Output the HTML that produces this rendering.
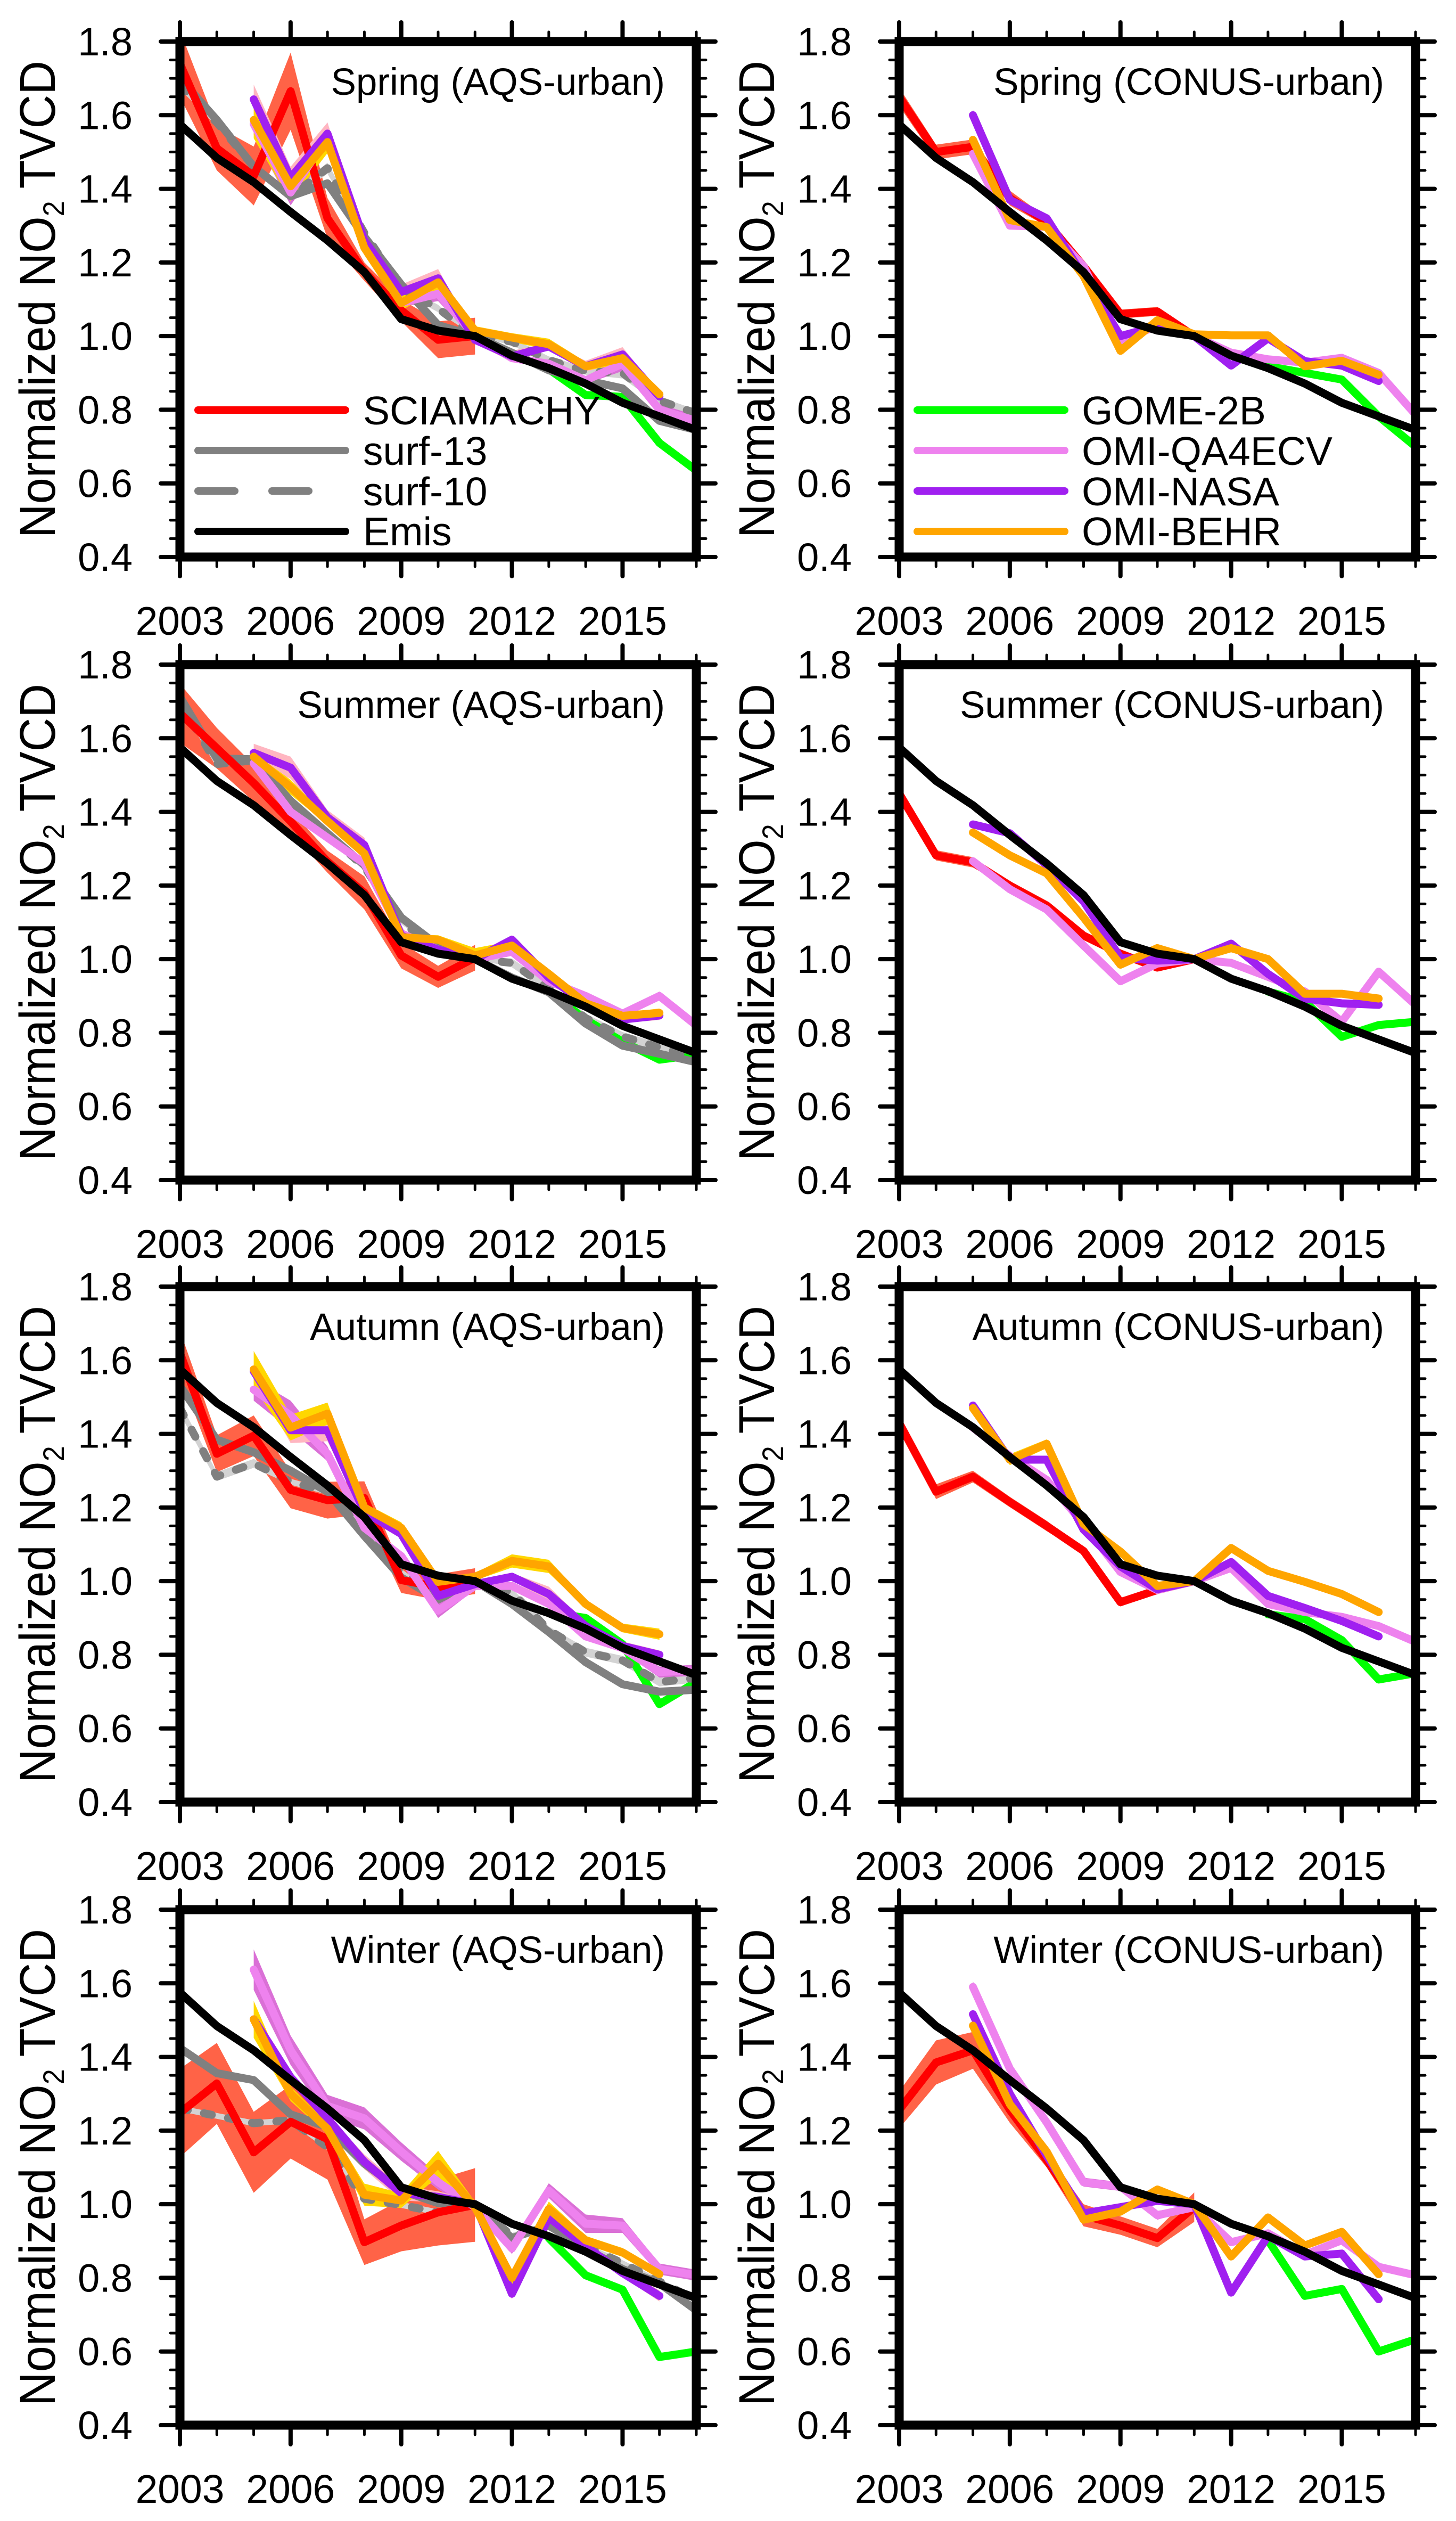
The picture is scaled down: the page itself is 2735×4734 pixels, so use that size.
<!DOCTYPE html>
<html lang="en">
<head>
<meta charset="utf-8">
<title>Normalized NO2 TVCD trends by season</title>
<style>
html,body{margin:0;padding:0;background:#fff}
svg{display:block}
text{font-family:"Liberation Sans",Arial,sans-serif;fill:#000}
</style>
</head>
<body>
<svg id="figure" xmlns="http://www.w3.org/2000/svg" width="2735" height="4734" viewBox="0 0 2735 4734"></svg>
<script>
const N = null;
const years = [2003,2004,2005,2006,2007,2008,2009,2010,2011,2012,2013,2014,2015,2016,2017];
const yearTickLabels = [2003,2006,2009,2012,2015];
const valueTickLabels = ['0.4','0.6','0.8','1.0','1.2','1.4','1.6','1.8'];
const emis = [1.575,1.484,1.418,1.337,1.26,1.174,1.046,1.015,1.0,.947,.913,.871,.819,.782,.745];

/* Spring, AQS-urban */
const spAqsRed = [1.74,1.51,1.435,1.665,1.32,1.175,1.07,.99,1.0];
const spAqsRedErr = [.09,.06,.08,.105,.055,.025,.03,.05,.05];
const spAqsS13 = [1.70,1.587,1.46,1.38,1.415,1.27,1.14,1.03,1.0,.955,.907,.88,.858,.77,.745];
const spAqsS13Err = [.01,.01,.01,.01,.01,.01,.01,.01,0,.005,.005,.005,.005,.005,.005];
const spAqsS10 = [1.68,1.58,1.46,1.38,1.456,1.28,1.13,1.075,1.0,.985,.935,.905,.90,.825,.79];
const spAqsS10Err = [.01,.01,.01,.01,.015,.01,.01,.01,0,.01,.01,.01,.015,.01,.01];
const spAqsGreen = [N,N,N,N,N,N,N,N,N,N,.91,.84,.835,.71,.635];
const spAqsGreenErr = [N,N,N,N,N,N,N,N,N,N,.005,.008,.008,.005,.005];
const spAqsViolet = [N,N,1.576,1.39,1.54,1.26,1.09,1.115,1.0,.94,.925,.88,.925,.80,.77];
const spAqsVioletErr = [N,N,.03,.035,.04,.01,.01,.02,.01,.01,.01,.01,.02,.015,.015];
const spAqsPurple = [N,N,1.643,1.43,1.55,1.26,1.12,1.157,.99,.945,.972,.918,.95,.836];
const spAqsPurpleErr = [N,N,.04,.03,.03,.01,.02,.025,.01,.015,.01,.015,.02,.01];
const spAqsOrange = [N,N,1.587,1.407,1.527,1.24,1.09,1.146,1.015,.996,.978,.918,.94,.842];
const spAqsOrangeErr = [N,N,.05,.04,.03,.02,.02,.02,.012,.012,.015,.012,.015,.012];

/* Spring, CONUS-urban */
const spConRed = [1.65,1.50,1.514,1.375,1.31,1.19,1.06,1.067,1.0];
const spConRedErr = [.025,.02,.02,.02,.012,.012,.012,.012,.003];
const spConGreen = [N,N,N,N,N,N,N,N,N,N,.918,.90,.882,.782,.70];
const spConGreenErr = [N,N,N,N,N,N,N,N,N,N,.002,.002,.002,.002,.002];
const spConViolet = [N,N,1.495,1.30,1.297,1.19,.983,1.03,1.0,.955,.937,.928,.941,.90,.787];
const spConVioletErr = [N,N,.005,.005,.008,.005,.005,.005,.002,.004,.004,.004,.004,.004,.004];
const spConPurple = [N,N,1.6,1.37,1.32,1.163,1.0,1.027,1.0,.92,.994,.932,.92,.878];
const spConPurpleErr = [N,N,.015,.006,.006,.004,.004,.004,.002,.004,.004,.004,.004,.004];
const spConOrange = [N,N,1.533,1.315,1.296,1.163,.96,1.043,1.005,1.002,1.002,.918,.933,.895];
const spConOrangeErr = [N,N,.006,.004,.004,.004,.004,.004,.002,.002,.004,.004,.004,.004];

/* Summer, AQS-urban */
const suAqsRed = [1.668,1.573,1.478,1.374,1.265,1.18,1.01,.952,1.004];
const suAqsRedErr = [.08,.055,.05,.03,.03,.045,.035,.03,.035];
const suAqsS13 = [1.712,1.545,1.543,1.43,1.342,1.255,1.113,1.037,1.0,.95,.91,.825,.765,.743,.72];
const suAqsS13Err = [.01,.01,.005,.005,.005,.005,.005,.005,0,.005,.005,.005,.005,.005,.005];
const suAqsS10 = [1.70,1.53,1.54,1.42,1.34,1.25,1.10,1.03,1.0,.99,.92,.84,.79,.76,.735];
const suAqsS10Err = [.01,.01,.005,.005,.005,.005,.005,.005,0,.012,.012,.012,.012,.012,.01];
const suAqsGreen = [N,N,N,N,N,N,N,N,N,N,.912,.836,.776,.727,.74];
const suAqsGreenErr = [N,N,N,N,N,N,N,N,N,N,.003,.003,.003,.003,.003];
const suAqsViolet = [N,N,1.532,1.40,1.33,1.26,1.07,1.026,1.0,1.02,.94,.90,.852,.90,.82];
const suAqsVioletErr = [N,N,.01,.012,.01,.01,.008,.008,.004,.008,.01,.01,.01,.012,.01];
const suAqsPurple = [N,N,1.56,1.52,1.385,1.31,1.064,1.026,1.0,1.053,.95,.88,.836,.847];
const suAqsPurpleErr = [N,N,.025,.03,.02,.02,.01,.01,.004,.012,.01,.01,.01,.012];
const suAqsOrange = [N,N,1.55,1.467,1.375,1.287,1.06,1.053,1.01,1.037,.96,.88,.846,.854];
const suAqsOrangeErr = [N,N,.01,.02,.01,.01,.008,.012,.02,.012,.01,.008,.008,.012];

/* Summer, CONUS-urban */
const suConRed = [1.45,1.282,1.263,1.2,1.146,1.064,1.015,.977,1.0];
const suConRedErr = [.02,.014,.014,.006,.008,.008,.006,.006,.002];
const suConGreen = [N,N,N,N,N,N,N,N,N,N,.912,.885,.789,.821,.83];
const suConGreenErr = [N,N,N,N,N,N,N,N,N,N,.002,.002,.002,.002,.002];
const suConViolet = [N,N,1.266,1.19,1.135,1.037,.94,.988,1.0,.99,.952,.912,.83,.966,.876];
const suConVioletErr = [N,N,.003,.003,.003,.003,.003,.003,.002,.003,.003,.003,.003,.003,.003];
const suConPurple = [N,N,1.366,1.342,1.255,1.157,1.004,.996,1.0,1.042,.96,.893,.88,.876];
const suConPurpleErr = [N,N,.003,.006,.003,.003,.003,.003,.002,.006,.003,.003,.003,.003];
const suConOrange = [N,N,1.344,1.282,1.233,1.113,.985,1.03,1.0,1.03,1.0,.906,.906,.893];
const suConOrangeErr = [N,N,.002,.002,.002,.002,.002,.002,.002,.002,.002,.002,.002,.002];

/* Autumn, AQS-urban */
const auAqsRed = [1.62,1.346,1.395,1.248,1.22,1.226,1.003,.984,1.0];
const auAqsRedErr = [.06,.05,.055,.05,.05,.045,.035,.035,.035];
const auAqsS13 = [1.53,1.384,1.35,1.30,1.243,1.123,1.01,.95,1.0,.938,.862,.78,.72,.70,.705];
const auAqsS13Err = [.008,.006,.006,.006,.006,.006,.006,.006,0,.005,.005,.005,.005,.005,.005];
const auAqsS10 = [1.47,1.284,1.32,1.27,1.243,1.14,1.025,.955,1.0,.97,.867,.807,.785,.726,.737];
const auAqsS10Err = [.015,.012,.012,.008,.008,.008,.008,.008,0,.01,.01,.012,.012,.012,.012];
const auAqsGreen = [N,N,N,N,N,N,N,N,N,N,.916,.90,.829,.666,.726];
const auAqsGreenErr = [N,N,N,N,N,N,N,N,N,N,.004,.004,.004,.004,.004];
const auAqsViolet = [N,N,1.52,1.45,1.346,1.145,1.068,.92,.987,.987,.938,.85,.818,.753,.758];
const auAqsVioletErr = [N,N,.03,.04,.02,.01,.01,.02,.01,.01,.01,.01,.01,.015,.015];
const auAqsPurple = [N,N,1.57,1.41,1.41,1.188,1.128,.96,.992,1.012,.965,.878,.824,.80];
const auAqsPurpleErr = [N,N,.02,.035,.03,.01,.01,.01,.01,.01,.02,.01,.012,.012];
const auAqsOrange = [N,N,1.575,1.417,1.455,1.2,1.145,.998,1.012,1.055,1.04,.938,.873,.856];
const auAqsOrangeErr = [N,N,.05,.035,.03,.012,.015,.012,.01,.018,.018,.012,.012,.015];

/* Autumn, CONUS-urban */
const auConRed = [1.43,1.243,1.284,1.215,1.15,1.082,.943,.976,1.0];
const auConRedErr = [.012,.02,.016,.014,.014,.008,.012,.006,.008];
const auConGreen = [N,N,N,N,N,N,N,N,N,N,.91,.897,.84,.733,.75];
const auConGreenErr = [N,N,N,N,N,N,N,N,N,N,.002,.002,.002,.002,.002];
const auConViolet = [N,N,1.417,1.34,1.275,1.155,1.025,.976,1.0,1.036,.938,.916,.903,.878,.835];
const auConVioletErr = [N,N,.004,.004,.004,.004,.004,.004,.002,.004,.004,.004,.004,.004,.004];
const auConPurple = [N,N,1.477,1.33,1.33,1.14,1.04,.978,1.0,1.052,.96,.927,.892,.85];
const auConPurpleErr = [N,N,.01,.006,.006,.003,.003,.003,.002,.006,.003,.003,.003,.003];
const auConOrange = [N,N,1.47,1.33,1.373,1.155,1.08,.987,1.0,1.09,1.028,.998,.965,.916];
const auConOrangeErr = [N,N,.004,.015,.012,.003,.003,.003,.002,.003,.003,.003,.003,.003];

/* Winter, AQS-urban */
const wiAqsRed = [1.248,1.328,1.141,1.224,1.177,.897,.942,.978,.998];
const wiAqsRedErr = [.12,.11,.11,.10,.11,.062,.07,.09,.10];
const wiAqsS13 = [1.424,1.356,1.337,1.244,1.21,1.11,1.037,1.003,1.0,.908,.942,.88,.824,.785,.712];
const wiAqsS13Err = [.005,.005,.005,.005,.005,.005,.005,.005,0,.005,.005,.005,.005,.005,.005];
const wiAqsS10 = [1.26,1.24,1.22,1.228,1.155,1.015,.998,.978,1.0,.914,.942,.886,.84,.79,.74];
const wiAqsS10Err = [.008,.008,.008,.008,.008,.008,.008,.008,0,.008,.01,.008,.008,.008,.008];
const wiAqsGreen = [N,N,N,N,N,N,N,N,N,N,.908,.807,.768,.585,.60];
const wiAqsGreenErr = [N,N,N,N,N,N,N,N,N,N,.008,.01,.008,.008,.008];
const wiAqsViolet = [N,N,1.637,1.418,1.267,1.233,1.143,1.06,.992,.88,1.037,.947,.942,.824,.807];
const wiAqsVioletErr = [N,N,.055,.04,.03,.03,.025,.02,.01,.015,.02,.025,.02,.015,.015];
const wiAqsPurple = [N,N,1.502,1.345,1.233,1.115,1.03,1.02,1.0,.757,.964,.886,.813,.751];
const wiAqsPurpleErr = [N,N,.015,.015,.01,.02,.02,.015,.01,.015,.01,.01,.01,.015];
const wiAqsOrange = [N,N,1.502,1.30,1.205,1.026,1.01,1.11,.992,.80,.987,.902,.869,.81];
const wiAqsOrangeErr = [N,N,.05,.02,.015,.03,.02,.035,.015,.02,.02,.012,.012,.012];

/* Winter, CONUS-urban */
const wiConRed = [1.256,1.385,1.418,1.256,1.12,.97,.942,.908,.992];
const wiConRedErr = [.05,.06,.05,.035,.02,.03,.025,.025,.04];
const wiConGreen = [N,N,N,N,N,N,N,N,N,N,.902,.751,.77,.60,.633];
const wiConGreenErr = [N,N,N,N,N,N,N,N,N,N,.002,.002,.002,.002,.002];
const wiConViolet = [N,N,1.59,1.368,1.222,1.06,1.048,.97,.992,.897,.921,.863,.902,.83,.807];
const wiConVioletErr = [N,N,.015,.01,.005,.012,.012,.012,.005,.008,.005,.008,.008,.005,.005];
const wiConPurple = [N,N,1.516,1.30,1.132,.975,.992,1.009,1.0,.76,.914,.858,.866,.742];
const wiConPurpleErr = [N,N,.008,.005,.005,.008,.008,.005,.002,.005,.005,.008,.008,.005];
const wiConOrange = [N,N,1.485,1.272,1.143,.958,.98,1.04,1.0,.858,.964,.888,.925,.81];
const wiConOrangeErr = [N,N,.01,.005,.005,.01,.005,.01,.005,.005,.005,.005,.005,.005];

const panels = [
 {key:'spring-aqs',title:'Spring (AQS-urban)',col:0,row:0,red:[spAqsRed,spAqsRedErr],s13:[spAqsS13,spAqsS13Err],s10:[spAqsS10,spAqsS10Err],green:[spAqsGreen,spAqsGreenErr],violet:[spAqsViolet,spAqsVioletErr],purple:[spAqsPurple,spAqsPurpleErr],orange:[spAqsOrange,spAqsOrangeErr]},
 {key:'spring-conus',title:'Spring (CONUS-urban)',col:1,row:0,red:[spConRed,spConRedErr],green:[spConGreen,spConGreenErr],violet:[spConViolet,spConVioletErr],purple:[spConPurple,spConPurpleErr],orange:[spConOrange,spConOrangeErr]},
 {key:'summer-aqs',title:'Summer (AQS-urban)',col:0,row:1,red:[suAqsRed,suAqsRedErr],s13:[suAqsS13,suAqsS13Err],s10:[suAqsS10,suAqsS10Err],green:[suAqsGreen,suAqsGreenErr],violet:[suAqsViolet,suAqsVioletErr],purple:[suAqsPurple,suAqsPurpleErr],orange:[suAqsOrange,suAqsOrangeErr]},
 {key:'summer-conus',title:'Summer (CONUS-urban)',col:1,row:1,red:[suConRed,suConRedErr],green:[suConGreen,suConGreenErr],violet:[suConViolet,suConVioletErr],purple:[suConPurple,suConPurpleErr],orange:[suConOrange,suConOrangeErr]},
 {key:'autumn-aqs',title:'Autumn (AQS-urban)',col:0,row:2,red:[auAqsRed,auAqsRedErr],s13:[auAqsS13,auAqsS13Err],s10:[auAqsS10,auAqsS10Err],green:[auAqsGreen,auAqsGreenErr],violet:[auAqsViolet,auAqsVioletErr],purple:[auAqsPurple,auAqsPurpleErr],orange:[auAqsOrange,auAqsOrangeErr]},
 {key:'autumn-conus',title:'Autumn (CONUS-urban)',col:1,row:2,red:[auConRed,auConRedErr],green:[auConGreen,auConGreenErr],violet:[auConViolet,auConVioletErr],purple:[auConPurple,auConPurpleErr],orange:[auConOrange,auConOrangeErr]},
 {key:'winter-aqs',title:'Winter (AQS-urban)',col:0,row:3,red:[wiAqsRed,wiAqsRedErr],s13:[wiAqsS13,wiAqsS13Err],s10:[wiAqsS10,wiAqsS10Err],green:[wiAqsGreen,wiAqsGreenErr],violet:[wiAqsViolet,wiAqsVioletErr],purple:[wiAqsPurple,wiAqsPurpleErr],orange:[wiAqsOrange,wiAqsOrangeErr]},
 {key:'winter-conus',title:'Winter (CONUS-urban)',col:1,row:3,red:[wiConRed,wiConRedErr],green:[wiConGreen,wiConGreenErr],violet:[wiConViolet,wiConVioletErr],purple:[wiConPurple,wiConPurpleErr],orange:[wiConOrange,wiConOrangeErr]}
];

const leftLegendLabels = ['SCIAMACHY','surf-13','surf-10','Emis'];
const leftLegendColors = ['#ff0000','#808080','#808080','#000000'];
const rightLegendLabels = ['GOME-2B','OMI-QA4ECV','OMI-NASA','OMI-BEHR'];
const rightLegendColors = ['#00ff00','#ee82ee','#a020f0','#ffa500'];

const svg = document.getElementById('figure');
const NS = 'http://www.w3.org/2000/svg';
const colLeft = [338,1689];
const rowTop = [78,1248,2416,3586];
const plotW = 970, plotH = 968;
const LW = 15;

function mk(tag, attrs, parent){
  const el = document.createElementNS(NS, tag);
  for(const k in attrs) el.setAttribute(k, attrs[k]);
  parent.appendChild(el);
  return el;
}
function xScale(left, year){ return left + (year - 2003) / 14 * plotW; }
function yScale(top, v){ return top + (1.8 - v) / 1.4 * plotH; }

function linePath(left, top, vals){
  let d = '', pen = false;
  vals.forEach((v,i)=>{
    if(v === null || v === undefined){ pen = false; return; }
    d += (pen ? 'L' : 'M') + xScale(left, years[i]).toFixed(1) + ' ' + yScale(top, v).toFixed(1);
    pen = true;
  });
  return d;
}
function bandPath(left, top, vals, errs){
  const up = [], lo = [];
  vals.forEach((v,i)=>{
    if(v === null || v === undefined) return;
    const e = errs[i] || 0;
    up.push(xScale(left, years[i]).toFixed(1) + ' ' + yScale(top, v + e).toFixed(1));
    lo.unshift(xScale(left, years[i]).toFixed(1) + ' ' + yScale(top, v - e).toFixed(1));
  });
  return 'M' + up.concat(lo).join('L') + 'Z';
}

function drawBand(g, p, left, top, pair, fill, name){
  const el = mk('path', {d: bandPath(left, top, pair[0], pair[1]), fill: fill}, g);
  
  
}
function drawLine(g, left, top, vals, color, name, dash){
  const attrs = {d: linePath(left, top, vals), fill:'none', stroke:color, 'stroke-width':LW, 'stroke-linecap':'round', 'stroke-linejoin':'round'};
  if(dash) attrs['stroke-dasharray'] = dash;
  const el = mk('path', attrs, g);
  
  
}

panels.forEach(p=>{
  const left = colLeft[p.col], top = rowTop[p.row];
  const right = left + plotW, bottom = top + plotH;
  const panel = mk('g', {}, svg);
  
  

  const clip = mk('clipPath', {id:'clip-' + p.key}, panel);
  mk('rect', {x:left, y:top, width:plotW, height:plotH}, clip);

  const marks = mk('g', {'clip-path':'url(#clip-' + p.key + ')'}, panel);
  
  

  drawBand(marks, p, left, top, p.red, '#ff6347', 'sciamachy-band');
  drawBand(marks, p, left, top, p.green, '#90ee90', 'gome-2b-band');
  if(p.s13) drawBand(marks, p, left, top, p.s13, '#d3d3d3', 'surf-13-band');
  if(p.s10) drawBand(marks, p, left, top, p.s10, '#d3d3d3', 'surf-10-band');
  drawBand(marks, p, left, top, p.violet, '#da70d6', 'omi-qa4ecv-band');
  drawBand(marks, p, left, top, p.purple, '#ffb6c1', 'omi-nasa-band');
  drawBand(marks, p, left, top, p.orange, '#ffd700', 'omi-behr-band');

  drawLine(marks, left, top, p.green[0], '#00ff00', 'gome-2b-line');
  if(p.s13) drawLine(marks, left, top, p.s13[0], '#808080', 'surf-13-line');
  if(p.s10) drawLine(marks, left, top, p.s10[0], '#808080', 'surf-10-line', '15 31');
  drawLine(marks, left, top, p.red[0], '#ff0000', 'sciamachy-line');
  drawLine(marks, left, top, p.violet[0], '#ee82ee', 'omi-qa4ecv-line');
  drawLine(marks, left, top, p.purple[0], '#a020f0', 'omi-nasa-line');
  drawLine(marks, left, top, p.orange[0], '#ffa500', 'omi-behr-line');
  drawLine(marks, left, top, emis, '#000000', 'emis-line');

  const ticks = mk('g', {stroke:'#000', 'stroke-linecap':'round'}, panel);
  
  
  years.forEach(yr=>{
    const major = (yr - 2003) % 3 === 0;
    const len = major ? 36 : 18, sw = major ? 8 : 5;
    const x = xScale(left, yr);
    const t1 = mk('line', {x1:x, x2:x, y1:top, y2:top - len, 'stroke-width':sw}, ticks);
    
    
    const t2 = mk('line', {x1:x, x2:x, y1:bottom, y2:bottom + len, 'stroke-width':sw}, ticks);
    
    
  });
  for(let i = 0; i <= 28; i++){
    const v = 0.4 + i * 0.05;
    const major = i % 4 === 0;
    const len = major ? 36 : 18, sw = major ? 8 : 5;
    const y = yScale(top, v);
    const t1 = mk('line', {x1:left, x2:left - len, y1:y, y2:y, 'stroke-width':sw}, ticks);
    
    
    const t2 = mk('line', {x1:right, x2:right + len, y1:y, y2:y, 'stroke-width':sw}, ticks);
    
    
  }

  const frame = mk('rect', {x:left, y:top, width:plotW, height:plotH, fill:'none', stroke:'#000', 'stroke-width':17}, panel);
  
  

  valueTickLabels.forEach(lbl=>{
    const t = mk('text', {x:left - 89, y:yScale(top, parseFloat(lbl)) + 26, 'text-anchor':'end', 'font-size':74}, panel);
    t.textContent = lbl;
    
    
  });
  yearTickLabels.forEach(yr=>{
    const t = mk('text', {x:xScale(left, yr), y:bottom + 146, 'text-anchor':'middle', 'font-size':75}, panel);
    t.textContent = yr;
    
    
  });

  const axisX = left - 235, axisY = top + plotH / 2;
  const yTitle = mk('text', {transform:'translate(' + axisX + ' ' + axisY + ') rotate(-90) scale(0.93 1)', 'text-anchor':'middle', 'font-size':95}, panel);
  
  
  mk('tspan', {}, yTitle).textContent = 'Normalized NO';
  mk('tspan', {dy:17, 'font-size':56}, yTitle).textContent = '2';
  mk('tspan', {dy:-17}, yTitle).textContent = ' TVCD';

  const title = mk('text', {x:left + 911, y:top + 100, 'text-anchor':'end', 'font-size':71}, panel);
  title.textContent = p.title;
  
  
});

const legendLineY = [770,846,922,998];
const legendTextY = [797,873,949,1024];
function drawLegend(x1, x2, textX, labels, colors, name){
  const g = mk('g', {}, svg);
  
  
  labels.forEach((lbl,i)=>{
    const dashed = lbl === 'surf-10';
    const attrs = {x1:x1, x2: dashed ? x1 + 208 : x2, y1:legendLineY[i], y2:legendLineY[i], stroke:colors[i], 'stroke-width':14, 'stroke-linecap':'round'};
    if(dashed) attrs['stroke-dasharray'] = '69 70';
    const sw = mk('line', attrs, g);
    
    
    const t = mk('text', {x:textX, y:legendTextY[i], 'font-size':75}, g);
    t.textContent = lbl;
    
    
  });
}
drawLegend(372, 649, 682, leftLegendLabels, leftLegendColors, 'legend-surface-emis');
drawLegend(1723, 2000, 2032, rightLegendLabels, rightLegendColors, 'legend-satellite');
</script>
</body>
</html>
